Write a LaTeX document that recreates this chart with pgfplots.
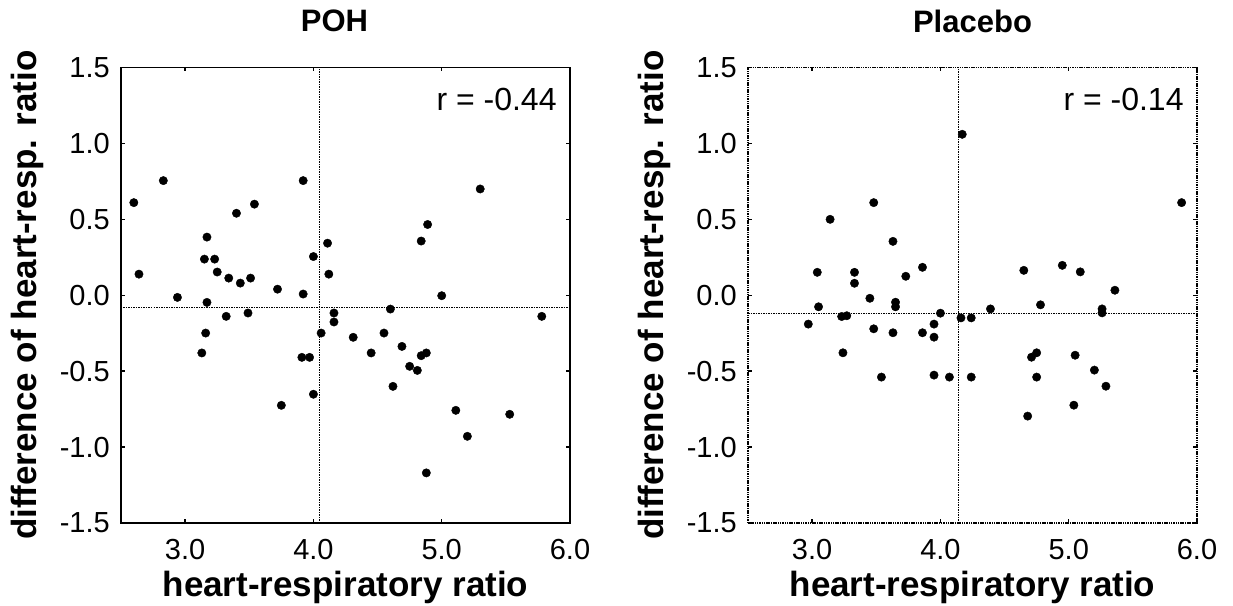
\documentclass[border=0pt]{standalone}
\usepackage{fontspec}
\setmainfont{Liberation Sans}
\usepackage{pgfplots}
\pgfplotsset{compat=1.18}
\pgfplotstableread{
x y
2.83 0.755
2.60 0.61
3.92 0.755
3.54 0.60
3.40 0.54
3.17 0.383
4.11 0.343
3.15 0.238
3.23 0.238
4.00 0.255
2.64 0.139
4.12 0.139
3.25 0.153
3.34 0.113
3.43 0.080
3.51 0.113
3.72 0.04
3.92 0.008
2.94 -0.014
5.30 0.70
4.89 0.466
4.84 0.357
5.00 -0.003
3.17 -0.047
3.32 -0.139
3.49 -0.117
3.16 -0.249
3.13 -0.38
4.16 -0.117
4.16 -0.176
4.06 -0.249
4.31 -0.277
3.91 -0.409
3.97 -0.409
4.00 -0.652
3.75 -0.725
4.60 -0.091
5.78 -0.139
4.55 -0.249
4.45 -0.38
4.69 -0.337
4.84 -0.398
4.88 -0.38
4.75 -0.468
4.81 -0.495
4.62 -0.60
5.11 -0.758
5.53 -0.784
5.20 -0.929
4.88 -1.17
}\poh
\pgfplotstableread{
x y
4.17 1.06
3.48 0.61
3.14 0.50
3.63 0.355
3.04 0.151
3.33 0.151
3.33 0.079
3.73 0.125
3.86 0.184
3.45 -0.02
5.88 0.61
4.65 0.164
4.95 0.197
5.09 0.154
5.36 0.033
3.05 -0.076
2.97 -0.19
3.23 -0.14
3.27 -0.135
3.65 -0.046
3.65 -0.076
3.48 -0.221
3.63 -0.247
3.86 -0.247
3.95 -0.19
3.95 -0.276
4.00 -0.118
3.24 -0.379
3.54 -0.539
3.95 -0.526
4.07 -0.539
4.16 -0.149
4.39 -0.09
4.78 -0.063
5.26 -0.09
5.26 -0.116
4.24 -0.149
4.71 -0.408
4.75 -0.379
5.05 -0.395
4.24 -0.539
4.75 -0.539
5.20 -0.493
5.29 -0.599
5.04 -0.724
4.68 -0.796
}\placebo
\pgfplotsset{
 myax/.style={
  scale only axis, width=449pt, height=455.5pt,
  xmin=2.5, xmax=6.0, ymin=-1.5, ymax=1.5,
  /pgf/number format/assume math mode=true,
  xtick={3,4,5,6}, ytick={-1.5,-1,-0.5,0,0.5,1,1.5},
  xticklabels={3.0,4.0,5.0,6.0},
  yticklabels={-1.5,-1.0,-0.5,0.0,0.5,1.0,1.5},
  tick align=inside, major tick length=4pt,
  tick style={line width=1.5pt, black},
  xticklabel style={font=\fontsize{29}{33}\selectfont, anchor=center, yshift=-27pt},
  yticklabel style={font=\fontsize{29}{33}\selectfont, anchor=east, inner sep=0pt, xshift=-11pt},
  xlabel={\bfseries heart-respiratory ratio},
  ylabel={\bfseries difference of heart-resp. ratio},
  label style={font=\fontsize{35}{40}\selectfont},
  xlabel style={at={(axis description cs:0.5,-0.1405)}, anchor=center},
  ylabel style={at={(axis description cs:-0.209,0.5)}, anchor=center},
  title style={font=\fontsize{31}{36}\selectfont\bfseries, anchor=center},
  ref/.style={black, line width=1pt, dash pattern=on 1.5pt off 1pt},
  dots/.style={only marks, mark=*, mark size=4.2pt, black},
 }
}
\begin{document}
\begin{tikzpicture}
\path[use as bounding box] (-121pt,-82pt) rectangle (1112pt,523pt);
\begin{axis}[myax, title={POH}, title style={at={(axis description cs:0.4755,1.089)}}, axis line style={line width=1.5pt}]
\addplot[ref] coordinates {(4.05,-1.5) (4.05,1.5)};
\addplot[ref] coordinates {(2.5,-0.078) (6.0,-0.078)};
\addplot[dots] table[x=x,y=y] {\poh};
\node[anchor=east, font=\fontsize{32}{36}\selectfont] at (rel axis cs:0.978,0.93) {r = -0.44};
\end{axis}
\begin{axis}[myax, at={(627pt,0pt)}, title={Placebo}, title style={at={(axis description cs:0.5,1.089)}}, axis line style={line width=1.2pt, dash pattern=on 1.5pt off 0.8pt}]
\addplot[ref] coordinates {(4.137,-1.5) (4.137,1.5)};
\addplot[ref] coordinates {(2.5,-0.118) (6.0,-0.118)};
\addplot[dots] table[x=x,y=y] {\placebo};
\node[anchor=east, font=\fontsize{32}{36}\selectfont] at (rel axis cs:0.978,0.93) {r = -0.14};
\end{axis}
\end{tikzpicture}
\end{document}
